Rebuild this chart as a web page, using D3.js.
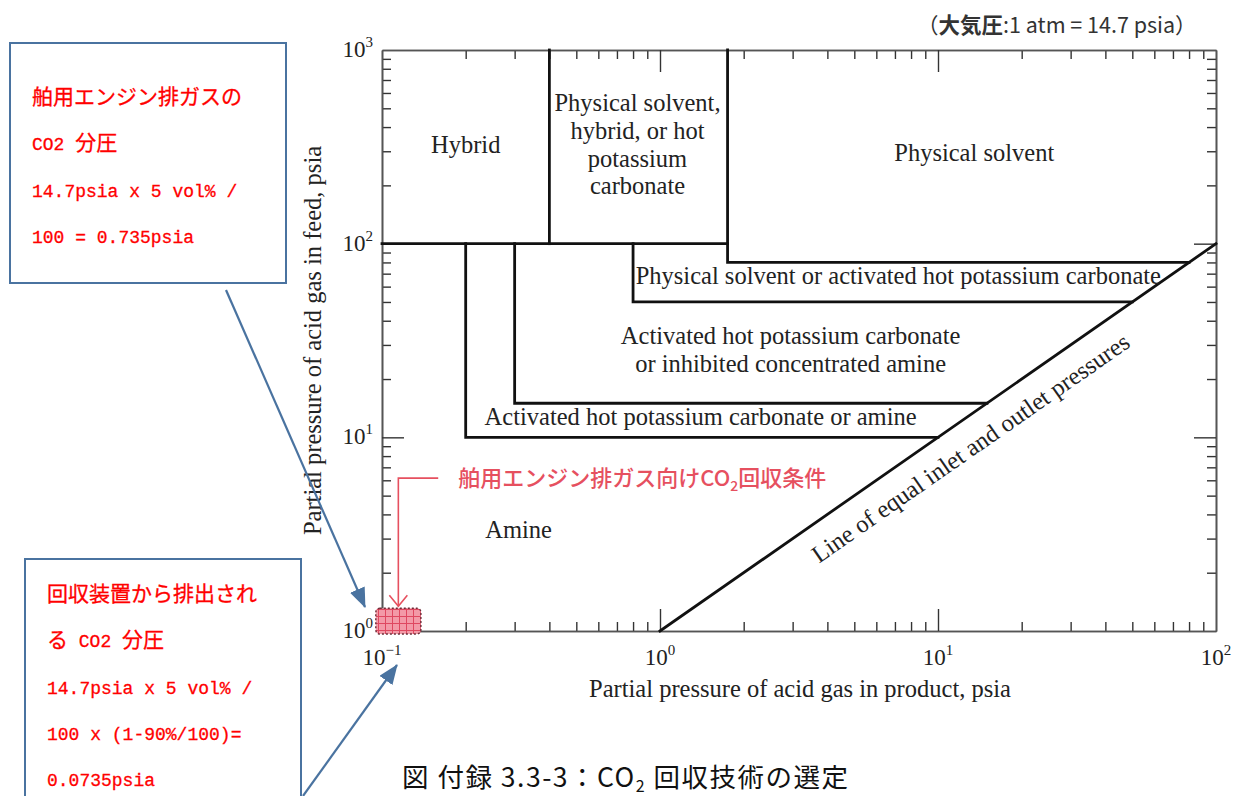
<!DOCTYPE html>
<html>
<head>
<meta charset="utf-8">
<script src="https://cdn.jsdelivr.net/npm/d3@7"></script>
<style>
  body { margin: 0; background: #fff; }
  svg { display: block; }
</style>
</head>
<body>
<svg id="svg-main" width="1235" height="796"></svg>
<script>
// decades on each axis (exponents of 10)
var xDecades = [-1, 0, 1, 2];
var yDecades = [0, 1, 2, 3];

// region boundaries as [product psia, feed psia] polylines
var boundaries = [
  [[0.1, 100], [1.75, 100]],
  [[0.4, 1000], [0.4, 100]],
  [[1.75, 1000], [1.75, 80], [80, 80]],
  [[0.8, 100], [0.8, 50], [50, 50]],
  [[0.3, 100], [0.3, 15], [15, 15]],
  [[0.2, 100], [0.2, 10], [10, 10]]
];
var equalLine = [[1, 1], [100, 100]];

// region names and where they sit (product psia, feed psia)
var regionNames = [
  "Hybrid",
  "Physical solvent,|hybrid, or hot|potassium|carbonate",
  "Physical solvent",
  "Physical solvent or activated hot potassium carbonate",
  "Activated hot potassium carbonate|or inhibited concentrated amine",
  "Activated hot potassium carbonate or amine",
  "Amine"
];
var regionX = [0.2, 0.83, 13.5, 7.2, 2.95, 1.4, 0.31];
var regionY = [320, 320, 290, 67, 28, 12.6, 3.3];

// marine engine exhaust condition (product psia range, feed psia range)
var markX = [0.095, 0.138];
var markY = [0.965, 1.31];
var markLabelAt = [0.188, 5.6];

var noteFeed = ["舶用エンジン排ガスの", "CO2 分圧", "14.7psia x 5 vol% /", "100 = 0.735psia"];
var noteProduct = ["回収装置から排出され", "る CO2 分圧", "14.7psia x 5 vol% /", "100 x (1-90%/100)=", "0.0735psia"];

var svg = d3.select("#svg-main");
var plotLeft = 382, plotRight = 1216, plotTop = 50, plotBottom = 631;
var serif = "'Liberation Serif', 'Times New Roman', serif";
var cjkSans = "'Noto Sans CJK JP', sans-serif";
var ink = "#222";

var x = d3.scaleLog().domain([0.1, 100]).range([plotLeft, plotRight]);
var y = d3.scaleLog().domain([1, 1000]).range([plotBottom, plotTop]);

function minorTicks(decades) {
  var v = [];
  decades.slice(0, -1).forEach(function(e) {
    for (var m = 2; m < 10; m++) v.push(m * Math.pow(10, e));
  });
  return v;
}

function styleAxis(g) {
  g.select(".domain").attr("stroke", "#555").attr("stroke-width", 1.6);
  g.selectAll(".tick line").attr("stroke", "#333").attr("stroke-width", 1.4);
  g.selectAll(".tick text").remove();
}

function drawAxes() {
  var xMinor = minorTicks(xDecades), yMinor = minorTicks(yDecades);
  var xMajor = [1, 10], yMajor = [10, 100];
  var sides = [
    [d3.axisBottom(x), "translate(0," + plotBottom + ")", xMinor, xMajor],
    [d3.axisTop(x), "translate(0," + plotTop + ")", xMinor, xMajor],
    [d3.axisLeft(y), "translate(" + plotLeft + ",0)", yMinor, yMajor],
    [d3.axisRight(y), "translate(" + plotRight + ",0)", yMinor, yMajor]
  ];
  sides.forEach(function(s) {
    svg.append("g").attr("transform", s[1])
      .call(s[0].tickValues(s[2]).tickSize(-9).tickSizeOuter(0).tickFormat(""))
      .call(styleAxis);
    svg.append("g").attr("transform", s[1])
      .call(s[0].tickValues(s[3]).tickSize(-22).tickSizeOuter(0).tickFormat(""))
      .call(styleAxis);
  });

  // power-of-ten labels
  xDecades.forEach(function(e) {
    var t = svg.append("text")
      .attr("x", x(Math.pow(10, e))).attr("y", plotBottom + 34)
      .attr("text-anchor", "middle")
      .attr("font-family", serif).attr("font-size", 23).attr("fill", ink);
    powLabel(t, e);
  });
  yDecades.forEach(function(e) {
    var t = svg.append("text")
      .attr("x", plotLeft - 9).attr("y", y(Math.pow(10, e)) + 7)
      .attr("text-anchor", "end")
      .attr("font-family", serif).attr("font-size", 23).attr("fill", ink);
    powLabel(t, e);
  });

  svg.append("text")
    .attr("x", 800).attr("y", 697)
    .attr("text-anchor", "middle")
    .attr("font-family", serif).attr("font-size", 24.5).attr("fill", ink)
    .text("Partial pressure of acid gas in product, psia");

  svg.append("text")
    .attr("transform", "translate(321," + (plotTop + plotBottom) / 2 + ") rotate(-90)")
    .attr("text-anchor", "middle")
    .attr("font-family", serif).attr("font-size", 24.5).attr("fill", ink)
    .text("Partial pressure of acid gas in feed, psia");
}

function powLabel(t, e) {
  t.append("tspan").text("10");
  t.append("tspan").attr("dy", -10).attr("font-size", 15)
    .text(e < 0 ? "\u2212" + (-e) : e);
}

function drawRegions() {
  var line = d3.line().x(function(d) { return x(d[0]); }).y(function(d) { return y(d[1]); });

  svg.append("g").selectAll("path")
    .data(boundaries.concat([equalLine]))
    .enter().append("path")
    .attr("d", line)
    .attr("fill", "none")
    .attr("stroke", "#111")
    .attr("stroke-width", 2.8)
    .attr("stroke-linecap", "square");

  regionNames.forEach(function(name, i) {
    var lines = name.split("|");
    var t = svg.append("text")
      .attr("text-anchor", "middle")
      .attr("font-family", serif).attr("font-size", 24.5).attr("fill", ink);
    lines.forEach(function(s, k) {
      t.append("tspan")
        .attr("x", x(regionX[i]))
        .attr("y", y(regionY[i]) + 7 + (k - (lines.length - 1) / 2) * 27.7)
        .text(s);
    });
  });

  // label along the line of equal pressures
  var p = [x(11.5), y(11.5)];
  var ang = Math.atan2(y(100) - y(1), x(100) - x(1));
  var off = 27;
  svg.append("text")
    .attr("transform", "translate(" + (p[0] - Math.sin(ang) * off) + "," + (p[1] + Math.cos(ang) * off) +
      ") rotate(" + (ang * 180 / Math.PI) + ")")
    .attr("text-anchor", "middle")
    .attr("dy", "0.35em")
    .attr("font-family", serif).attr("font-size", 24.5).attr("fill", ink)
    .text("Line of equal inlet and outlet pressures");
}

function drawMark() {
  var defs = svg.append("defs");
  var pat = defs.append("pattern").attr("id", "pink-grid")
    .attr("width", 7).attr("height", 7).attr("patternUnits", "userSpaceOnUse");
  pat.append("rect").attr("width", 7).attr("height", 7).attr("fill", "#f39aa7");
  pat.append("path").attr("d", "M0 0.5 H7 M0.5 0 V7")
    .attr("stroke", "#df4860").attr("stroke-width", 1);

  var bx0 = x(markX[0]), bx1 = x(markX[1]);
  var by0 = y(markY[1]), by1 = y(markY[0]);
  svg.append("rect")
    .attr("x", bx0).attr("y", by0)
    .attr("width", bx1 - bx0).attr("height", by1 - by0)
    .attr("rx", 4)
    .attr("fill", "url(#pink-grid)")
    .attr("stroke", "#6e2d38").attr("stroke-width", 1.4)
    .attr("stroke-dasharray", "2 2");

  var red = "#e6505f";
  var cx = (bx0 + bx1) / 2;
  var ly = y(markLabelAt[1]) - 8;
  var lx = x(markLabelAt[0]);
  svg.append("path")
    .attr("d", "M " + (lx - 20) + " " + ly + " H " + cx + " V " + (by0 - 2))
    .attr("fill", "none").attr("stroke", red).attr("stroke-width", 1.6);
  svg.append("path")
    .attr("d", "M " + (cx - 9) + " " + (by0 - 13) + " L " + cx + " " + (by0 - 2) + " L " + (cx + 9) + " " + (by0 - 13))
    .attr("fill", "none").attr("stroke", red).attr("stroke-width", 1.6);

  var t = svg.append("text")
    .attr("x", lx).attr("y", y(markLabelAt[1]))
    .attr("font-family", cjkSans)
    .attr("font-size", 22).attr("font-weight", 500).attr("fill", red);
  t.append("tspan").text("舶用エンジン排ガス向けCO");
  t.append("tspan").attr("dy", 5).attr("font-size", 14).text("2");
  t.append("tspan").attr("dy", -5).text("回収条件");
}

function addRuns(t, str) {
  str.split(/([\u3000-\u9fff\uff00-\uffef]+)/).forEach(function(part) {
    if (!part) return;
    var cjk = /[\u3000-\u9fff\uff00-\uffef]/.test(part);
    t.append("tspan")
      .attr("font-family", cjk ? "'Noto Sans CJK JP'" : "'Liberation Mono', monospace")
      .attr("font-size", cjk ? 21 : 18)
      .text(part);
  });
}

function drawNotes() {
  var blue = "#4a73a0";
  var boxes = [
    { x: 10, y: 43, w: 276, h: 240, lines: noteFeed, tx: 32, ty: 104 },
    { x: 25, y: 559, w: 276, h: 260, lines: noteProduct, tx: 47, ty: 601 }
  ];
  boxes.forEach(function(b) {
    svg.append("rect")
      .attr("x", b.x).attr("y", b.y).attr("width", b.w).attr("height", b.h)
      .attr("fill", "#fff").attr("stroke", blue).attr("stroke-width", 2);
    b.lines.forEach(function(s, k) {
      var t = svg.append("text")
        .attr("x", b.tx).attr("y", b.ty + k * 46.3)
        .attr("fill", "#ff0000")
        .attr("stroke", "#ff0000").attr("stroke-width", 0.3)
        .style("white-space", "pre");
      addRuns(t, s);
    });
  });

  svg.select("defs").append("marker")
    .attr("id", "blue-head")
    .attr("markerUnits", "userSpaceOnUse")
    .attr("viewBox", "0 0 20 16")
    .attr("refX", 19).attr("refY", 8)
    .attr("markerWidth", 20).attr("markerHeight", 16)
    .attr("orient", "auto")
    .append("path").attr("d", "M0 0 L20 8 L0 16 Z").attr("fill", blue);

  [[226, 290, 365, 607], [303, 796, 397, 665]].forEach(function(a) {
    svg.append("line")
      .attr("x1", a[0]).attr("y1", a[1]).attr("x2", a[2]).attr("y2", a[3])
      .attr("stroke", blue).attr("stroke-width", 2.2)
      .attr("marker-end", "url(#blue-head)");
  });
}

function drawCaptions() {
  var note = svg.append("text")
    .attr("x", 917).attr("y", 33)
    .attr("font-family", cjkSans)
    .attr("font-size", 21.5).attr("fill", "#333");
  note.append("tspan").text("（");
  note.append("tspan").attr("font-weight", 700).text("大気圧");
  note.append("tspan").text(":1 atm = 14.7 psia）");

  var cap = svg.append("text")
    .attr("x", 402).attr("y", 787)
    .attr("font-family", cjkSans)
    .attr("font-size", 26.5).attr("fill", "#111")
    .attr("letter-spacing", 1.5);
  cap.append("tspan").text("図 付録 3.3-3：CO");
  cap.append("tspan").attr("dy", 5).attr("font-size", 16).text("2");
  cap.append("tspan").attr("dy", -5).text(" 回収技術の選定");
}

drawAxes();
drawRegions();
drawMark();
drawNotes();
drawCaptions();
</script>
</body>
</html>
